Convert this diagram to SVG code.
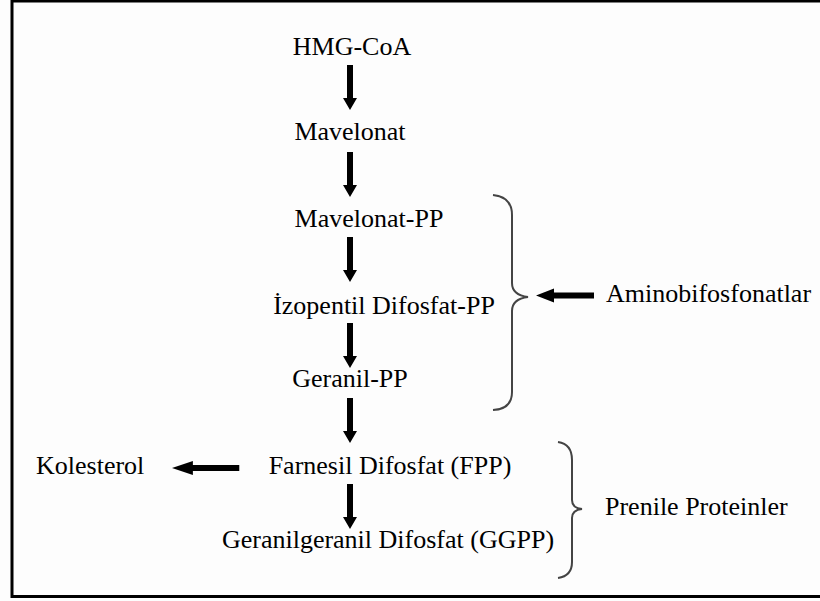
<svg xmlns="http://www.w3.org/2000/svg" width="820" height="601" viewBox="0 0 820 601">
<defs>
<path id="va" d="M-3,0 H3 V33 H7 L0,45 L-7,33 H-3 Z" fill="#000"/>
<path id="ha" d="M0,0 L18,-7 V-3 H58 V3 H18 V7 Z" fill="#000"/>
</defs>
<rect x="0" y="0" width="820" height="601" fill="#fdfdfd"/>
<rect x="12" y="1" width="830" height="595.5" fill="none" stroke="#000" stroke-width="3"/>
<g font-family="Liberation Serif" font-size="26" fill="#000">
<g id="n-hmgcoa"><text text-anchor="middle" x="352" y="55">HMG-CoA</text></g>
<g id="n-mavelonat"><text text-anchor="middle" x="350" y="140">Mavelonat</text></g>
<g id="n-mavelonatpp"><text text-anchor="middle" x="369" y="227">Mavelonat-PP</text></g>
<g id="n-izopentil"><text text-anchor="middle" x="384" y="314">İzopentil Difosfat-PP</text></g>
<g id="n-geranil"><text text-anchor="middle" x="350" y="387">Geranil-PP</text></g>
<g id="n-farnesil"><text text-anchor="middle" x="390" y="474">Farnesil Difosfat (FPP)</text></g>
<g id="n-ggpp"><text text-anchor="middle" x="388" y="548">Geranilgeranil Difosfat (GGPP)</text></g>
<g id="n-kolesterol"><text x="36" y="474">Kolesterol</text></g>
<g id="n-amino"><text x="606" y="302">Aminobifosfonatlar</text></g>
<g id="n-prenile"><text x="605" y="515">Prenile Proteinler</text></g>
</g>
<g id="braces" fill="none" stroke="#444" stroke-width="2">
<path d="M493,195 Q512,197 512,215 V283 Q512,295 528,297 Q512,299 512,311 V392 Q512,409 493,410"/>
<path d="M558,442 Q572,444 572,460 V500 Q572,508 582,509 Q572,510 572,518 V562 Q572,576 558,578"/>
</g>
<g id="connectors">
<use href="#va" x="350" y="65"/>
<use href="#va" x="350" y="152"/>
<use href="#va" x="350" y="237"/>
<use href="#va" x="350" y="323"/>
<use href="#va" x="350" y="398"/>
<use href="#va" x="350" y="484"/>
<use href="#ha" x="536" y="295.5"/>
<use href="#ha" transform="translate(172,468) scale(1.16,1)"/>
</g>
</svg>
